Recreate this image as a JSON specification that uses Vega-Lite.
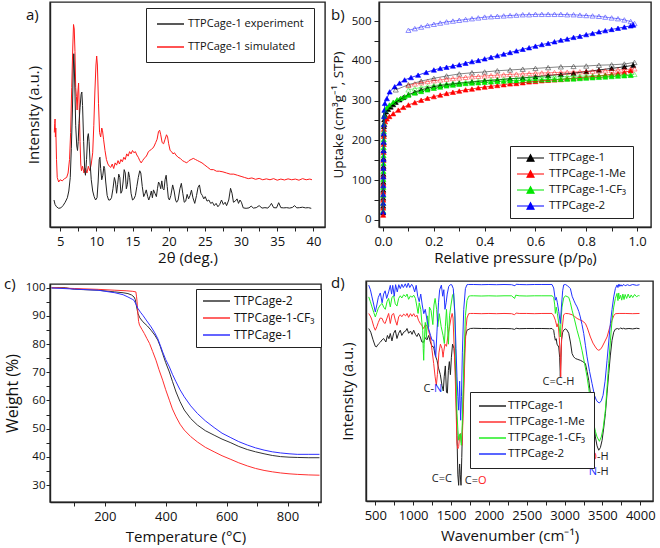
{
"$schema":"https://vega.github.io/schema/vega-lite/v6.json",
"background":"white",
"padding":{"left":3,"top":0,"right":2,"bottom":0},
"config":{
 "font":"Open Sans",
 "view":{"stroke":"#222","strokeWidth":1.4},
 "axis":{"domainColor":"#222","domainWidth":1.4,"tickColor":"#222","tickWidth":1,"tickSize":4,"labelColor":"#111","titleColor":"#111","titleFontWeight":"normal","grid":false,"labelPadding":4,"titlePadding":2,"labelFlush":false,"labelOverlap":false,"titleFontSize":15},
 "axisX":{"labelFontSize":13},
 "axisY":{"labelFontSize":11.5},
 "legend":{"labelColor":"#111","strokeColor":"#222","fillColor":"white","padding":6,"orient":"none","title":null,"symbolStrokeWidth":1.5},
 "title":{"fontSize":15,"fontWeight":"normal","anchor":"start","frame":"group","baseline":"top","color":"#111"}
},
"columns":2,
"align":"none",
"bounds":"full",
"spacing":{"row":9,"column":4},
"resolve":{"scale":{"color":"independent","fill":"independent","stroke":"independent"},"legend":{"color":"independent","fill":"independent","stroke":"independent"}},
"datasets":{
"xrd":[
{"s":"s","x":4.2,"y":42},{"s":"s","x":4.25,"y":46},{"s":"s","x":4.3,"y":48},{"s":"s","x":4.35,"y":40},{"s":"s","x":4.4,"y":44},{"s":"s","x":4.5,"y":30},{"s":"s","x":4.6,"y":22},{"s":"s","x":4.8,"y":20},{"s":"s","x":5.0,"y":21},{"s":"s","x":5.3,"y":20.5},{"s":"s","x":5.6,"y":21.5},{"s":"s","x":5.9,"y":22},{"s":"s","x":6.1,"y":24},{"s":"s","x":6.3,"y":30},{"s":"s","x":6.45,"y":42},{"s":"s","x":6.6,"y":62},{"s":"s","x":6.75,"y":80},{"s":"s","x":6.85,"y":90},{"s":"s","x":6.95,"y":88},{"s":"s","x":7.05,"y":78},{"s":"s","x":7.15,"y":62},{"s":"s","x":7.25,"y":58},{"s":"s","x":7.35,"y":52},{"s":"s","x":7.45,"y":60},{"s":"s","x":7.55,"y":64},{"s":"s","x":7.65,"y":52},{"s":"s","x":7.75,"y":38},{"s":"s","x":7.85,"y":28},{"s":"s","x":7.95,"y":25},{"s":"s","x":8.1,"y":27},{"s":"s","x":8.3,"y":24},{"s":"s","x":8.5,"y":26},{"s":"s","x":8.7,"y":24},{"s":"s","x":8.9,"y":27},{"s":"s","x":9.1,"y":25},{"s":"s","x":9.3,"y":28},{"s":"s","x":9.5,"y":33},{"s":"s","x":9.65,"y":45},{"s":"s","x":9.8,"y":60},{"s":"s","x":9.95,"y":72},{"s":"s","x":10.05,"y":76},{"s":"s","x":10.15,"y":72},{"s":"s","x":10.3,"y":55},{"s":"s","x":10.45,"y":42},{"s":"s","x":10.6,"y":40},{"s":"s","x":10.75,"y":44},{"s":"s","x":10.85,"y":43},{"s":"s","x":11.0,"y":39},{"s":"s","x":11.2,"y":34},{"s":"s","x":11.4,"y":30},{"s":"s","x":11.6,"y":28},{"s":"s","x":11.8,"y":27},{"s":"s","x":12.0,"y":26.5},{"s":"s","x":12.2,"y":28},{"s":"s","x":12.4,"y":26},{"s":"s","x":12.6,"y":28.5},{"s":"s","x":12.8,"y":27.5},{"s":"s","x":13.0,"y":29.5},{"s":"s","x":13.2,"y":28},{"s":"s","x":13.4,"y":30},{"s":"s","x":13.6,"y":29},{"s":"s","x":13.8,"y":31},{"s":"s","x":14.0,"y":30},{"s":"s","x":14.2,"y":32.5},{"s":"s","x":14.4,"y":31.5},{"s":"s","x":14.6,"y":33.5},{"s":"s","x":14.8,"y":32.5},{"s":"s","x":15.0,"y":34},{"s":"s","x":15.2,"y":33},{"s":"s","x":15.4,"y":33.5},{"s":"s","x":15.6,"y":32},{"s":"s","x":15.8,"y":31},{"s":"s","x":16.0,"y":29.5},{"s":"s","x":16.2,"y":28.5},{"s":"s","x":16.4,"y":29.5},{"s":"s","x":16.6,"y":30.5},{"s":"s","x":16.8,"y":31},{"s":"s","x":17.0,"y":32},{"s":"s","x":17.2,"y":33.5},{"s":"s","x":17.4,"y":34},{"s":"s","x":17.6,"y":34.5},{"s":"s","x":17.8,"y":35},{"s":"s","x":18.0,"y":36},{"s":"s","x":18.2,"y":37.5},{"s":"s","x":18.4,"y":39},{"s":"s","x":18.6,"y":42.5},{"s":"s","x":18.75,"y":43},{"s":"s","x":18.9,"y":41},{"s":"s","x":19.1,"y":37.5},{"s":"s","x":19.3,"y":37},{"s":"s","x":19.5,"y":39},{"s":"s","x":19.7,"y":41},{"s":"s","x":19.85,"y":40},{"s":"s","x":20.0,"y":37},{"s":"s","x":20.2,"y":34},{"s":"s","x":20.4,"y":33.5},{"s":"s","x":20.6,"y":32.5},{"s":"s","x":20.8,"y":33},{"s":"s","x":21.0,"y":32},{"s":"s","x":21.3,"y":31},{"s":"s","x":21.6,"y":30.5},{"s":"s","x":21.9,"y":29.5},{"s":"s","x":22.2,"y":29},{"s":"s","x":22.5,"y":28.5},{"s":"s","x":22.8,"y":29.5},{"s":"s","x":23.1,"y":30},{"s":"s","x":23.4,"y":30.5},{"s":"s","x":23.7,"y":30},{"s":"s","x":24.0,"y":29.5},{"s":"s","x":24.3,"y":29},{"s":"s","x":24.6,"y":28.5},{"s":"s","x":25.0,"y":27.5},{"s":"s","x":25.4,"y":26.5},{"s":"s","x":25.8,"y":25.5},{"s":"s","x":26.2,"y":25.5},{"s":"s","x":26.6,"y":24.8},{"s":"s","x":27.0,"y":24.8},{"s":"s","x":27.5,"y":24.5},{"s":"s","x":28.0,"y":24},{"s":"s","x":28.5,"y":23.5},{"s":"s","x":29.0,"y":23.5},{"s":"s","x":29.5,"y":23},{"s":"s","x":30.0,"y":22.5},{"s":"s","x":30.5,"y":22},{"s":"s","x":31.0,"y":21.5},{"s":"s","x":31.5,"y":21.8},{"s":"s","x":32.0,"y":21.2},{"s":"s","x":32.5,"y":21.6},{"s":"s","x":33.0,"y":21},{"s":"s","x":33.5,"y":21.4},{"s":"s","x":34.0,"y":21},{"s":"s","x":34.5,"y":21.5},{"s":"s","x":35.0,"y":20.8},{"s":"s","x":35.5,"y":21.3},{"s":"s","x":36.0,"y":20.9},{"s":"s","x":36.5,"y":21.4},{"s":"s","x":37.0,"y":21},{"s":"s","x":37.5,"y":21.3},{"s":"s","x":38.0,"y":20.8},{"s":"s","x":38.5,"y":21.5},{"s":"s","x":39.0,"y":21},{"s":"s","x":39.5,"y":21.3},{"s":"s","x":39.8,"y":21},
{"s":"e","x":4.15,"y":12},{"s":"e","x":4.3,"y":10},{"s":"e","x":4.5,"y":9},{"s":"e","x":4.8,"y":8.3},{"s":"e","x":5.1,"y":8.5},{"s":"e","x":5.4,"y":9.5},{"s":"e","x":5.7,"y":11},{"s":"e","x":6.0,"y":13},{"s":"e","x":6.2,"y":16},{"s":"e","x":6.4,"y":22},{"s":"e","x":6.55,"y":35},{"s":"e","x":6.7,"y":52},{"s":"e","x":6.8,"y":68},{"s":"e","x":6.88,"y":77},{"s":"e","x":6.95,"y":72},{"s":"e","x":7.05,"y":60},{"s":"e","x":7.15,"y":45},{"s":"e","x":7.3,"y":36},{"s":"e","x":7.4,"y":34},{"s":"e","x":7.5,"y":38},{"s":"e","x":7.6,"y":46},{"s":"e","x":7.75,"y":53},{"s":"e","x":7.9,"y":59},{"s":"e","x":8.0,"y":60},{"s":"e","x":8.1,"y":54},{"s":"e","x":8.25,"y":38},{"s":"e","x":8.4,"y":25},{"s":"e","x":8.5,"y":23},{"s":"e","x":8.65,"y":30},{"s":"e","x":8.8,"y":40},{"s":"e","x":8.9,"y":41.5},{"s":"e","x":9.0,"y":38},{"s":"e","x":9.15,"y":28},{"s":"e","x":9.3,"y":21},{"s":"e","x":9.5,"y":16},{"s":"e","x":9.7,"y":13.5},{"s":"e","x":9.9,"y":12},{"s":"e","x":10.1,"y":13},{"s":"e","x":10.25,"y":20},{"s":"e","x":10.4,"y":30},{"s":"e","x":10.5,"y":31},{"s":"e","x":10.6,"y":26},{"s":"e","x":10.75,"y":21},{"s":"e","x":10.9,"y":23},{"s":"e","x":11.05,"y":27},{"s":"e","x":11.15,"y":26},{"s":"e","x":11.3,"y":20},{"s":"e","x":11.5,"y":14},{"s":"e","x":11.7,"y":12},{"s":"e","x":11.9,"y":12},{"s":"e","x":12.1,"y":13},{"s":"e","x":12.3,"y":17},{"s":"e","x":12.5,"y":22},{"s":"e","x":12.65,"y":20},{"s":"e","x":12.8,"y":15},{"s":"e","x":12.95,"y":19},{"s":"e","x":13.1,"y":23.5},{"s":"e","x":13.25,"y":22},{"s":"e","x":13.4,"y":15},{"s":"e","x":13.55,"y":16},{"s":"e","x":13.7,"y":20},{"s":"e","x":13.85,"y":25.5},{"s":"e","x":14.0,"y":24},{"s":"e","x":14.15,"y":17},{"s":"e","x":14.3,"y":19},{"s":"e","x":14.45,"y":24.5},{"s":"e","x":14.6,"y":22},{"s":"e","x":14.8,"y":15},{"s":"e","x":15.0,"y":12},{"s":"e","x":15.2,"y":12.5},{"s":"e","x":15.4,"y":14},{"s":"e","x":15.6,"y":18},{"s":"e","x":15.8,"y":22},{"s":"e","x":16.0,"y":25},{"s":"e","x":16.15,"y":24},{"s":"e","x":16.35,"y":18},{"s":"e","x":16.55,"y":13.5},{"s":"e","x":16.75,"y":15},{"s":"e","x":16.9,"y":16.5},{"s":"e","x":17.1,"y":13.5},{"s":"e","x":17.25,"y":12},{"s":"e","x":17.45,"y":14},{"s":"e","x":17.6,"y":16},{"s":"e","x":17.75,"y":13},{"s":"e","x":17.9,"y":16.5},{"s":"e","x":18.1,"y":15},{"s":"e","x":18.3,"y":13.5},{"s":"e","x":18.45,"y":17},{"s":"e","x":18.6,"y":20},{"s":"e","x":18.75,"y":19},{"s":"e","x":18.9,"y":17},{"s":"e","x":19.05,"y":20.5},{"s":"e","x":19.2,"y":17},{"s":"e","x":19.35,"y":16.5},{"s":"e","x":19.5,"y":21},{"s":"e","x":19.65,"y":23},{"s":"e","x":19.8,"y":18},{"s":"e","x":19.95,"y":13},{"s":"e","x":20.1,"y":12},{"s":"e","x":20.3,"y":14},{"s":"e","x":20.55,"y":18.7},{"s":"e","x":20.75,"y":16},{"s":"e","x":20.95,"y":12},{"s":"e","x":21.1,"y":11},{"s":"e","x":21.3,"y":12},{"s":"e","x":21.55,"y":17},{"s":"e","x":21.75,"y":19.4},{"s":"e","x":21.95,"y":15},{"s":"e","x":22.15,"y":11},{"s":"e","x":22.35,"y":11.5},{"s":"e","x":22.55,"y":14.5},{"s":"e","x":22.75,"y":12.5},{"s":"e","x":22.95,"y":14},{"s":"e","x":23.15,"y":16.4},{"s":"e","x":23.35,"y":13},{"s":"e","x":23.6,"y":10.5},{"s":"e","x":23.85,"y":14},{"s":"e","x":24.05,"y":17.5},{"s":"e","x":24.25,"y":18.7},{"s":"e","x":24.45,"y":15},{"s":"e","x":24.65,"y":14},{"s":"e","x":24.85,"y":12.5},{"s":"e","x":25.05,"y":13.5},{"s":"e","x":25.3,"y":11.5},{"s":"e","x":25.55,"y":12},{"s":"e","x":25.8,"y":10.5},{"s":"e","x":26.05,"y":11},{"s":"e","x":26.3,"y":9.5},{"s":"e","x":26.55,"y":10.5},{"s":"e","x":26.8,"y":9},{"s":"e","x":27.05,"y":10},{"s":"e","x":27.3,"y":12},{"s":"e","x":27.55,"y":10},{"s":"e","x":27.8,"y":11},{"s":"e","x":28.0,"y":9.5},{"s":"e","x":28.3,"y":12},{"s":"e","x":28.55,"y":17.2},{"s":"e","x":28.75,"y":15},{"s":"e","x":28.95,"y":11},{"s":"e","x":29.2,"y":11.5},{"s":"e","x":29.45,"y":12.5},{"s":"e","x":29.65,"y":10.5},{"s":"e","x":29.85,"y":12},{"s":"e","x":30.05,"y":11},{"s":"e","x":30.3,"y":8.5},{"s":"e","x":30.7,"y":8.3},{"s":"e","x":31.1,"y":8.5},{"s":"e","x":31.4,"y":9.3},{"s":"e","x":31.7,"y":8.4},{"s":"e","x":32.1,"y":8.6},{"s":"e","x":32.5,"y":9.5},{"s":"e","x":32.9,"y":8.4},{"s":"e","x":33.3,"y":8.6},{"s":"e","x":33.7,"y":8.4},{"s":"e","x":34.0,"y":9.5},{"s":"e","x":34.2,"y":10.5},{"s":"e","x":34.5,"y":8.6},{"s":"e","x":34.9,"y":8.5},{"s":"e","x":35.2,"y":10.8},{"s":"e","x":35.5,"y":8.6},{"s":"e","x":35.9,"y":8.5},{"s":"e","x":36.3,"y":8.6},{"s":"e","x":36.7,"y":8.4},{"s":"e","x":37.1,"y":8.7},{"s":"e","x":37.4,"y":9.5},{"s":"e","x":37.7,"y":8.5},{"s":"e","x":38.1,"y":8.6},{"s":"e","x":38.5,"y":8.8},{"s":"e","x":38.9,"y":8.5},{"s":"e","x":39.3,"y":8.6},{"s":"e","x":39.7,"y":8.3}
],
"iso":[
{"s":"1","b":"a","p":0.0005,"u":18},{"s":"1","b":"a","p":0.0007,"u":35},{"s":"1","b":"a","p":0.0009,"u":55},{"s":"1","b":"a","p":0.0011,"u":75},{"s":"1","b":"a","p":0.0013,"u":95},{"s":"1","b":"a","p":0.0015,"u":115},{"s":"1","b":"a","p":0.0018,"u":135},{"s":"1","b":"a","p":0.002,"u":155},{"s":"1","b":"a","p":0.0023,"u":175},{"s":"1","b":"a","p":0.0026,"u":195},{"s":"1","b":"a","p":0.003,"u":215},{"s":"1","b":"a","p":0.0035,"u":235},{"s":"1","b":"a","p":0.0045,"u":252},{"s":"1","b":"a","p":0.007,"u":265},{"s":"1","b":"a","p":0.012,"u":272},{"s":"1","b":"a","p":0.02,"u":278},{"s":"1","b":"a","p":0.03,"u":284},{"s":"1","b":"a","p":0.04,"u":290},{"s":"1","b":"a","p":0.05,"u":296},{"s":"1","b":"a","p":0.065,"u":302},{"s":"1","b":"a","p":0.08,"u":308},{"s":"1","b":"a","p":0.1,"u":315},{"s":"1","b":"a","p":0.125,"u":321},{"s":"1","b":"a","p":0.15,"u":327},{"s":"1","b":"a","p":0.175,"u":331},{"s":"1","b":"a","p":0.2,"u":335},{"s":"1","b":"a","p":0.225,"u":338},{"s":"1","b":"a","p":0.25,"u":340},{"s":"1","b":"a","p":0.275,"u":342},{"s":"1","b":"a","p":0.3,"u":344},{"s":"1","b":"a","p":0.35,"u":347},{"s":"1","b":"a","p":0.4,"u":350},{"s":"1","b":"a","p":0.45,"u":352},{"s":"1","b":"a","p":0.5,"u":355},{"s":"1","b":"a","p":0.55,"u":357},{"s":"1","b":"a","p":0.6,"u":360},{"s":"1","b":"a","p":0.65,"u":363},{"s":"1","b":"a","p":0.7,"u":366},{"s":"1","b":"a","p":0.75,"u":369},{"s":"1","b":"a","p":0.8,"u":373},{"s":"1","b":"a","p":0.85,"u":377},{"s":"1","b":"a","p":0.9,"u":381},{"s":"1","b":"a","p":0.95,"u":385},{"s":"1","b":"a","p":0.985,"u":389},
{"s":"1","b":"d","p":0.99,"u":396},{"s":"1","b":"d","p":0.95,"u":392},{"s":"1","b":"d","p":0.9,"u":390},{"s":"1","b":"d","p":0.85,"u":389},{"s":"1","b":"d","p":0.8,"u":387},{"s":"1","b":"d","p":0.75,"u":386},{"s":"1","b":"d","p":0.7,"u":385},{"s":"1","b":"d","p":0.65,"u":383},{"s":"1","b":"d","p":0.6,"u":381},{"s":"1","b":"d","p":0.55,"u":379},{"s":"1","b":"d","p":0.5,"u":377},{"s":"1","b":"d","p":0.45,"u":375},{"s":"1","b":"d","p":0.4,"u":372},{"s":"1","b":"d","p":0.35,"u":370},{"s":"1","b":"d","p":0.3,"u":367},{"s":"1","b":"d","p":0.25,"u":362},{"s":"1","b":"d","p":0.2,"u":356},{"s":"1","b":"d","p":0.15,"u":349},{"s":"1","b":"d","p":0.1,"u":340},{"s":"1","b":"d","p":0.05,"u":327},
{"s":"Me","b":"a","p":0.0005,"u":12},{"s":"Me","b":"a","p":0.0007,"u":30},{"s":"Me","b":"a","p":0.0009,"u":50},{"s":"Me","b":"a","p":0.0011,"u":70},{"s":"Me","b":"a","p":0.0013,"u":90},{"s":"Me","b":"a","p":0.0015,"u":110},{"s":"Me","b":"a","p":0.0018,"u":130},{"s":"Me","b":"a","p":0.002,"u":150},{"s":"Me","b":"a","p":0.0023,"u":170},{"s":"Me","b":"a","p":0.0026,"u":190},{"s":"Me","b":"a","p":0.003,"u":210},{"s":"Me","b":"a","p":0.0035,"u":228},{"s":"Me","b":"a","p":0.005,"u":240},{"s":"Me","b":"a","p":0.008,"u":247},{"s":"Me","b":"a","p":0.015,"u":254},{"s":"Me","b":"a","p":0.025,"u":260},{"s":"Me","b":"a","p":0.04,"u":267},{"s":"Me","b":"a","p":0.06,"u":276},{"s":"Me","b":"a","p":0.08,"u":283},{"s":"Me","b":"a","p":0.1,"u":289},{"s":"Me","b":"a","p":0.125,"u":295},{"s":"Me","b":"a","p":0.15,"u":301},{"s":"Me","b":"a","p":0.175,"u":306},{"s":"Me","b":"a","p":0.2,"u":310},{"s":"Me","b":"a","p":0.225,"u":314},{"s":"Me","b":"a","p":0.25,"u":318},{"s":"Me","b":"a","p":0.275,"u":321},{"s":"Me","b":"a","p":0.3,"u":324},{"s":"Me","b":"a","p":0.325,"u":327},{"s":"Me","b":"a","p":0.35,"u":329},{"s":"Me","b":"a","p":0.375,"u":332},{"s":"Me","b":"a","p":0.4,"u":334},{"s":"Me","b":"a","p":0.425,"u":336},{"s":"Me","b":"a","p":0.45,"u":338},{"s":"Me","b":"a","p":0.475,"u":340},{"s":"Me","b":"a","p":0.5,"u":342},{"s":"Me","b":"a","p":0.525,"u":343},{"s":"Me","b":"a","p":0.55,"u":345},{"s":"Me","b":"a","p":0.575,"u":347},{"s":"Me","b":"a","p":0.6,"u":348},{"s":"Me","b":"a","p":0.625,"u":350},{"s":"Me","b":"a","p":0.65,"u":351},{"s":"Me","b":"a","p":0.675,"u":352},{"s":"Me","b":"a","p":0.7,"u":353},{"s":"Me","b":"a","p":0.725,"u":355},{"s":"Me","b":"a","p":0.75,"u":356},{"s":"Me","b":"a","p":0.775,"u":358},{"s":"Me","b":"a","p":0.8,"u":359},{"s":"Me","b":"a","p":0.825,"u":361},{"s":"Me","b":"a","p":0.85,"u":362},{"s":"Me","b":"a","p":0.875,"u":364},{"s":"Me","b":"a","p":0.9,"u":366},{"s":"Me","b":"a","p":0.925,"u":368},{"s":"Me","b":"a","p":0.95,"u":371},{"s":"Me","b":"a","p":0.975,"u":375},
{"s":"Me","b":"d","p":0.99,"u":380},{"s":"Me","b":"d","p":0.975,"u":379},{"s":"Me","b":"d","p":0.95,"u":378},{"s":"Me","b":"d","p":0.925,"u":377},{"s":"Me","b":"d","p":0.9,"u":376},{"s":"Me","b":"d","p":0.875,"u":375},{"s":"Me","b":"d","p":0.85,"u":374.5},{"s":"Me","b":"d","p":0.825,"u":374},{"s":"Me","b":"d","p":0.8,"u":373},{"s":"Me","b":"d","p":0.775,"u":372.5},{"s":"Me","b":"d","p":0.75,"u":372},{"s":"Me","b":"d","p":0.725,"u":371.5},{"s":"Me","b":"d","p":0.7,"u":371},{"s":"Me","b":"d","p":0.675,"u":370.5},{"s":"Me","b":"d","p":0.65,"u":370},{"s":"Me","b":"d","p":0.625,"u":369.5},{"s":"Me","b":"d","p":0.6,"u":369},{"s":"Me","b":"d","p":0.575,"u":368},{"s":"Me","b":"d","p":0.55,"u":367},{"s":"Me","b":"d","p":0.525,"u":366.5},{"s":"Me","b":"d","p":0.5,"u":366},{"s":"Me","b":"d","p":0.475,"u":365},{"s":"Me","b":"d","p":0.45,"u":364},{"s":"Me","b":"d","p":0.425,"u":363},{"s":"Me","b":"d","p":0.4,"u":362},{"s":"Me","b":"d","p":0.375,"u":361},{"s":"Me","b":"d","p":0.35,"u":360},{"s":"Me","b":"d","p":0.325,"u":358.5},{"s":"Me","b":"d","p":0.3,"u":357},{"s":"Me","b":"d","p":0.275,"u":355.5},{"s":"Me","b":"d","p":0.25,"u":354},{"s":"Me","b":"d","p":0.225,"u":352},{"s":"Me","b":"d","p":0.2,"u":350},{"s":"Me","b":"d","p":0.175,"u":348},{"s":"Me","b":"d","p":0.15,"u":345},{"s":"Me","b":"d","p":0.125,"u":342},{"s":"Me","b":"d","p":0.1,"u":338},
{"s":"CF3","b":"a","p":0.0005,"u":22},{"s":"CF3","b":"a","p":0.0007,"u":42},{"s":"CF3","b":"a","p":0.0009,"u":62},{"s":"CF3","b":"a","p":0.0011,"u":82},{"s":"CF3","b":"a","p":0.0013,"u":102},{"s":"CF3","b":"a","p":0.0015,"u":122},{"s":"CF3","b":"a","p":0.0018,"u":142},{"s":"CF3","b":"a","p":0.002,"u":162},{"s":"CF3","b":"a","p":0.0023,"u":182},{"s":"CF3","b":"a","p":0.0026,"u":202},{"s":"CF3","b":"a","p":0.003,"u":222},{"s":"CF3","b":"a","p":0.0035,"u":242},{"s":"CF3","b":"a","p":0.005,"u":262},{"s":"CF3","b":"a","p":0.008,"u":276},{"s":"CF3","b":"a","p":0.015,"u":283},{"s":"CF3","b":"a","p":0.025,"u":289},{"s":"CF3","b":"a","p":0.04,"u":296},{"s":"CF3","b":"a","p":0.055,"u":302},{"s":"CF3","b":"a","p":0.07,"u":306},{"s":"CF3","b":"a","p":0.085,"u":310},{"s":"CF3","b":"a","p":0.1,"u":314},{"s":"CF3","b":"a","p":0.125,"u":319},{"s":"CF3","b":"a","p":0.15,"u":323},{"s":"CF3","b":"a","p":0.175,"u":327},{"s":"CF3","b":"a","p":0.2,"u":331},{"s":"CF3","b":"a","p":0.225,"u":334},{"s":"CF3","b":"a","p":0.25,"u":337},{"s":"CF3","b":"a","p":0.275,"u":339},{"s":"CF3","b":"a","p":0.3,"u":341},{"s":"CF3","b":"a","p":0.325,"u":343},{"s":"CF3","b":"a","p":0.35,"u":344},{"s":"CF3","b":"a","p":0.375,"u":345},{"s":"CF3","b":"a","p":0.4,"u":346},{"s":"CF3","b":"a","p":0.425,"u":347},{"s":"CF3","b":"a","p":0.45,"u":348},{"s":"CF3","b":"a","p":0.475,"u":349},{"s":"CF3","b":"a","p":0.5,"u":349.5},{"s":"CF3","b":"a","p":0.525,"u":350},{"s":"CF3","b":"a","p":0.55,"u":350.5},{"s":"CF3","b":"a","p":0.575,"u":351},{"s":"CF3","b":"a","p":0.6,"u":351.5},{"s":"CF3","b":"a","p":0.625,"u":352},{"s":"CF3","b":"a","p":0.65,"u":352.5},{"s":"CF3","b":"a","p":0.675,"u":353},{"s":"CF3","b":"a","p":0.7,"u":353.5},{"s":"CF3","b":"a","p":0.725,"u":354},{"s":"CF3","b":"a","p":0.75,"u":354.5},{"s":"CF3","b":"a","p":0.775,"u":355.5},{"s":"CF3","b":"a","p":0.8,"u":356.5},{"s":"CF3","b":"a","p":0.825,"u":357.5},{"s":"CF3","b":"a","p":0.85,"u":358.5},{"s":"CF3","b":"a","p":0.875,"u":359.5},{"s":"CF3","b":"a","p":0.9,"u":360.5},{"s":"CF3","b":"a","p":0.925,"u":361.5},{"s":"CF3","b":"a","p":0.95,"u":362.5},{"s":"CF3","b":"a","p":0.975,"u":363.5},
{"s":"CF3","b":"d","p":0.99,"u":366},{"s":"CF3","b":"d","p":0.975,"u":365.5},{"s":"CF3","b":"d","p":0.95,"u":365},{"s":"CF3","b":"d","p":0.925,"u":364.5},{"s":"CF3","b":"d","p":0.9,"u":364},{"s":"CF3","b":"d","p":0.875,"u":363.5},{"s":"CF3","b":"d","p":0.85,"u":363},{"s":"CF3","b":"d","p":0.825,"u":362.5},{"s":"CF3","b":"d","p":0.8,"u":362},{"s":"CF3","b":"d","p":0.775,"u":361.5},{"s":"CF3","b":"d","p":0.75,"u":361},{"s":"CF3","b":"d","p":0.725,"u":360.5},{"s":"CF3","b":"d","p":0.7,"u":360},{"s":"CF3","b":"d","p":0.675,"u":359.5},{"s":"CF3","b":"d","p":0.65,"u":359},{"s":"CF3","b":"d","p":0.625,"u":358.5},{"s":"CF3","b":"d","p":0.6,"u":358},{"s":"CF3","b":"d","p":0.575,"u":357.5},{"s":"CF3","b":"d","p":0.55,"u":357},{"s":"CF3","b":"d","p":0.525,"u":356},{"s":"CF3","b":"d","p":0.5,"u":355},{"s":"CF3","b":"d","p":0.475,"u":354},{"s":"CF3","b":"d","p":0.45,"u":353},{"s":"CF3","b":"d","p":0.425,"u":352},{"s":"CF3","b":"d","p":0.4,"u":351},{"s":"CF3","b":"d","p":0.375,"u":349.5},{"s":"CF3","b":"d","p":0.35,"u":348},{"s":"CF3","b":"d","p":0.325,"u":346.5},{"s":"CF3","b":"d","p":0.3,"u":345},{"s":"CF3","b":"d","p":0.275,"u":343.5},{"s":"CF3","b":"d","p":0.25,"u":342},{"s":"CF3","b":"d","p":0.225,"u":340},{"s":"CF3","b":"d","p":0.2,"u":338},{"s":"CF3","b":"d","p":0.175,"u":335.5},{"s":"CF3","b":"d","p":0.15,"u":333},{"s":"CF3","b":"d","p":0.125,"u":330},{"s":"CF3","b":"d","p":0.1,"u":327},
{"s":"2","b":"a","p":0.0005,"u":20},{"s":"2","b":"a","p":0.0007,"u":42},{"s":"2","b":"a","p":0.0009,"u":64},{"s":"2","b":"a","p":0.0011,"u":86},{"s":"2","b":"a","p":0.0013,"u":108},{"s":"2","b":"a","p":0.0015,"u":130},{"s":"2","b":"a","p":0.0018,"u":152},{"s":"2","b":"a","p":0.002,"u":174},{"s":"2","b":"a","p":0.0023,"u":196},{"s":"2","b":"a","p":0.0026,"u":218},{"s":"2","b":"a","p":0.003,"u":240},{"s":"2","b":"a","p":0.004,"u":260},{"s":"2","b":"a","p":0.005,"u":276},{"s":"2","b":"a","p":0.007,"u":293},{"s":"2","b":"a","p":0.015,"u":305},{"s":"2","b":"a","p":0.026,"u":322},{"s":"2","b":"a","p":0.046,"u":335},{"s":"2","b":"a","p":0.065,"u":344},{"s":"2","b":"a","p":0.085,"u":352},{"s":"2","b":"a","p":0.11,"u":358},{"s":"2","b":"a","p":0.138,"u":364},{"s":"2","b":"a","p":0.17,"u":371},{"s":"2","b":"a","p":0.2,"u":377},{"s":"2","b":"a","p":0.225,"u":381},{"s":"2","b":"a","p":0.25,"u":384},{"s":"2","b":"a","p":0.275,"u":387},{"s":"2","b":"a","p":0.3,"u":390},{"s":"2","b":"a","p":0.325,"u":394},{"s":"2","b":"a","p":0.35,"u":398},{"s":"2","b":"a","p":0.375,"u":401},{"s":"2","b":"a","p":0.4,"u":405},{"s":"2","b":"a","p":0.425,"u":409},{"s":"2","b":"a","p":0.45,"u":413},{"s":"2","b":"a","p":0.475,"u":417},{"s":"2","b":"a","p":0.5,"u":421},{"s":"2","b":"a","p":0.525,"u":425},{"s":"2","b":"a","p":0.55,"u":429},{"s":"2","b":"a","p":0.575,"u":433},{"s":"2","b":"a","p":0.6,"u":437},{"s":"2","b":"a","p":0.625,"u":441},{"s":"2","b":"a","p":0.65,"u":444},{"s":"2","b":"a","p":0.675,"u":448},{"s":"2","b":"a","p":0.7,"u":452},{"s":"2","b":"a","p":0.725,"u":455},{"s":"2","b":"a","p":0.75,"u":459},{"s":"2","b":"a","p":0.775,"u":462},{"s":"2","b":"a","p":0.8,"u":466},{"s":"2","b":"a","p":0.825,"u":469},{"s":"2","b":"a","p":0.85,"u":473},{"s":"2","b":"a","p":0.875,"u":476},{"s":"2","b":"a","p":0.9,"u":479},{"s":"2","b":"a","p":0.925,"u":482},{"s":"2","b":"a","p":0.95,"u":485},{"s":"2","b":"a","p":0.975,"u":488},{"s":"2","b":"a","p":0.985,"u":490},
{"s":"2","b":"d","p":0.99,"u":494},{"s":"2","b":"d","p":0.975,"u":499},{"s":"2","b":"d","p":0.95,"u":503},{"s":"2","b":"d","p":0.925,"u":506},{"s":"2","b":"d","p":0.9,"u":508},{"s":"2","b":"d","p":0.875,"u":510},{"s":"2","b":"d","p":0.85,"u":512},{"s":"2","b":"d","p":0.825,"u":513},{"s":"2","b":"d","p":0.8,"u":514},{"s":"2","b":"d","p":0.775,"u":515},{"s":"2","b":"d","p":0.75,"u":516},{"s":"2","b":"d","p":0.725,"u":516},{"s":"2","b":"d","p":0.7,"u":517},{"s":"2","b":"d","p":0.675,"u":517},{"s":"2","b":"d","p":0.65,"u":517},{"s":"2","b":"d","p":0.625,"u":517},{"s":"2","b":"d","p":0.6,"u":517},{"s":"2","b":"d","p":0.575,"u":516},{"s":"2","b":"d","p":0.55,"u":516},{"s":"2","b":"d","p":0.525,"u":515},{"s":"2","b":"d","p":0.5,"u":514},{"s":"2","b":"d","p":0.475,"u":513},{"s":"2","b":"d","p":0.45,"u":512},{"s":"2","b":"d","p":0.425,"u":511},{"s":"2","b":"d","p":0.4,"u":510},{"s":"2","b":"d","p":0.375,"u":508},{"s":"2","b":"d","p":0.35,"u":506},{"s":"2","b":"d","p":0.325,"u":504},{"s":"2","b":"d","p":0.3,"u":502},{"s":"2","b":"d","p":0.275,"u":500},{"s":"2","b":"d","p":0.25,"u":498},{"s":"2","b":"d","p":0.225,"u":495},{"s":"2","b":"d","p":0.2,"u":492},{"s":"2","b":"d","p":0.175,"u":489},{"s":"2","b":"d","p":0.15,"u":485},{"s":"2","b":"d","p":0.125,"u":481},{"s":"2","b":"d","p":0.1,"u":477}
],
"tga":[
{"s":"2","x":25,"y":99.9},{"s":"2","x":50,"y":100},{"s":"2","x":70,"y":100},{"s":"2","x":95,"y":99.5},{"s":"2","x":130,"y":99.3},{"s":"2","x":178,"y":99.1},{"s":"2","x":233,"y":98.5},{"s":"2","x":260,"y":98.2},{"s":"2","x":276,"y":97.9},{"s":"2","x":288,"y":97.4},{"s":"2","x":296,"y":96.7},{"s":"2","x":300,"y":95.8},{"s":"2","x":303,"y":94},{"s":"2","x":306,"y":92.3},{"s":"2","x":309,"y":90.8},{"s":"2","x":315,"y":89.3},{"s":"2","x":325,"y":87.9},{"s":"2","x":340,"y":86.4},{"s":"2","x":352,"y":84.9},{"s":"2","x":364,"y":83.2},{"s":"2","x":374,"y":81.4},{"s":"2","x":382,"y":79.2},{"s":"2","x":390,"y":76.6},{"s":"2","x":400,"y":73.4},{"s":"2","x":412,"y":70.1},{"s":"2","x":422,"y":66.8},{"s":"2","x":434,"y":63},{"s":"2","x":447,"y":59.6},{"s":"2","x":461,"y":56.6},{"s":"2","x":482,"y":53.6},{"s":"2","x":504,"y":51.3},{"s":"2","x":530,"y":49.3},{"s":"2","x":559,"y":47.7},{"s":"2","x":585,"y":46.3},{"s":"2","x":614,"y":45},{"s":"2","x":640,"y":43.7},{"s":"2","x":668,"y":42.6},{"s":"2","x":695,"y":41.8},{"s":"2","x":723,"y":41.1},{"s":"2","x":750,"y":40.5},{"s":"2","x":777,"y":40.1},{"s":"2","x":805,"y":39.9},{"s":"2","x":832,"y":39.8},{"s":"2","x":870,"y":39.7},{"s":"2","x":905,"y":39.7},
{"s":"CF3","x":25,"y":100},{"s":"CF3","x":100,"y":99.7},{"s":"CF3","x":178,"y":99.4},{"s":"CF3","x":233,"y":99.1},{"s":"CF3","x":270,"y":98.9},{"s":"CF3","x":292,"y":98.7},{"s":"CF3","x":302,"y":98.5},{"s":"CF3","x":304,"y":97},{"s":"CF3","x":306,"y":95},{"s":"CF3","x":307.5,"y":92.5},{"s":"CF3","x":309,"y":90.2},{"s":"CF3","x":311,"y":88},{"s":"CF3","x":314,"y":86.7},{"s":"CF3","x":322,"y":85.2},{"s":"CF3","x":330,"y":83.7},{"s":"CF3","x":338,"y":82},{"s":"CF3","x":347,"y":80.2},{"s":"CF3","x":357,"y":77.4},{"s":"CF3","x":368,"y":74.3},{"s":"CF3","x":378,"y":70.9},{"s":"CF3","x":390,"y":67.2},{"s":"CF3","x":400,"y":63.8},{"s":"CF3","x":412,"y":60.1},{"s":"CF3","x":422,"y":57},{"s":"CF3","x":434,"y":54.2},{"s":"CF3","x":447,"y":51.6},{"s":"CF3","x":461,"y":49.5},{"s":"CF3","x":482,"y":47.2},{"s":"CF3","x":504,"y":45.3},{"s":"CF3","x":530,"y":43.4},{"s":"CF3","x":559,"y":41.8},{"s":"CF3","x":585,"y":40.4},{"s":"CF3","x":614,"y":39.1},{"s":"CF3","x":640,"y":37.9},{"s":"CF3","x":668,"y":36.8},{"s":"CF3","x":695,"y":35.9},{"s":"CF3","x":723,"y":35.2},{"s":"CF3","x":750,"y":34.7},{"s":"CF3","x":777,"y":34.3},{"s":"CF3","x":805,"y":34},{"s":"CF3","x":832,"y":33.8},{"s":"CF3","x":870,"y":33.6},{"s":"CF3","x":905,"y":33.5},
{"s":"1","x":25,"y":99.9},{"s":"1","x":100,"y":99.5},{"s":"1","x":178,"y":99.1},{"s":"1","x":233,"y":98.2},{"s":"1","x":260,"y":97.5},{"s":"1","x":276,"y":96.7},{"s":"1","x":290,"y":95.9},{"s":"1","x":296,"y":95.5},{"s":"1","x":302,"y":94.2},{"s":"1","x":309,"y":92.6},{"s":"1","x":317,"y":91.3},{"s":"1","x":325,"y":90.2},{"s":"1","x":338,"y":88.2},{"s":"1","x":352,"y":86.1},{"s":"1","x":364,"y":84},{"s":"1","x":374,"y":81.9},{"s":"1","x":382,"y":79.6},{"s":"1","x":390,"y":77.2},{"s":"1","x":400,"y":74.5},{"s":"1","x":412,"y":71.9},{"s":"1","x":422,"y":69.3},{"s":"1","x":434,"y":66.6},{"s":"1","x":447,"y":63.8},{"s":"1","x":461,"y":61.3},{"s":"1","x":482,"y":58.1},{"s":"1","x":504,"y":55.4},{"s":"1","x":530,"y":52.8},{"s":"1","x":559,"y":50.4},{"s":"1","x":585,"y":48.4},{"s":"1","x":614,"y":46.8},{"s":"1","x":640,"y":45.4},{"s":"1","x":668,"y":44.2},{"s":"1","x":695,"y":43.2},{"s":"1","x":723,"y":42.4},{"s":"1","x":750,"y":41.8},{"s":"1","x":777,"y":41.4},{"s":"1","x":805,"y":41.1},{"s":"1","x":832,"y":40.9},{"s":"1","x":870,"y":40.9},{"s":"1","x":905,"y":40.9}
],
"ftir":[
{"s":"1","x":413,"y":79.2},{"s":"1","x":440,"y":77.5},{"s":"1","x":470,"y":74},{"s":"1","x":500,"y":71},{"s":"1","x":513,"y":70.7},{"s":"1","x":540,"y":72},{"s":"1","x":566,"y":72.9},{"s":"1","x":590,"y":74},{"s":"1","x":610,"y":74.6},{"s":"1","x":640,"y":73},{"s":"1","x":660,"y":76},{"s":"1","x":680,"y":74.5},{"s":"1","x":698,"y":76.9},{"s":"1","x":720,"y":73.5},{"s":"1","x":742,"y":77},{"s":"1","x":764,"y":78.4},{"s":"1","x":786,"y":74.6},{"s":"1","x":808,"y":77},{"s":"1","x":830,"y":78.4},{"s":"1","x":850,"y":76},{"s":"1","x":875,"y":77.5},{"s":"1","x":900,"y":78},{"s":"1","x":919,"y":79.2},{"s":"1","x":940,"y":77},{"s":"1","x":965,"y":78},{"s":"1","x":985,"y":76.5},{"s":"1","x":1007,"y":78.4},{"s":"1","x":1030,"y":76.5},{"s":"1","x":1050,"y":75.5},{"s":"1","x":1070,"y":77},{"s":"1","x":1094,"y":75.3},{"s":"1","x":1115,"y":73},{"s":"1","x":1139,"y":72.9},{"s":"1","x":1160,"y":75},{"s":"1","x":1183,"y":74},{"s":"1","x":1205,"y":76},{"s":"1","x":1227,"y":73},{"s":"1","x":1250,"y":71},{"s":"1","x":1271,"y":70.7},{"s":"1","x":1290,"y":67},{"s":"1","x":1315,"y":64.6},{"s":"1","x":1335,"y":61},{"s":"1","x":1359,"y":58},{"s":"1","x":1381,"y":53},{"s":"1","x":1398,"y":50.5},{"s":"1","x":1410,"y":57},{"s":"1","x":1425,"y":62},{"s":"1","x":1440,"y":50},{"s":"1","x":1452,"y":49.5},{"s":"1","x":1465,"y":60},{"s":"1","x":1478,"y":64},{"s":"1","x":1492,"y":58},{"s":"1","x":1505,"y":66},{"s":"1","x":1520,"y":72},{"s":"1","x":1540,"y":70},{"s":"1","x":1557,"y":62},{"s":"1","x":1570,"y":45},{"s":"1","x":1579,"y":30},{"s":"1","x":1590,"y":12},{"s":"1","x":1601,"y":7.2},{"s":"1","x":1610,"y":15},{"s":"1","x":1614,"y":17},{"s":"1","x":1622,"y":12},{"s":"1","x":1632,"y":7.2},{"s":"1","x":1642,"y":20},{"s":"1","x":1654,"y":38},{"s":"1","x":1668,"y":55.4},{"s":"1","x":1680,"y":70},{"s":"1","x":1690,"y":75.5},{"s":"1","x":1711,"y":78.4},{"s":"1","x":1755,"y":79.2},{"s":"1","x":1800,"y":79.3},{"s":"1","x":1900,"y":79.2},{"s":"1","x":2000,"y":79.2},{"s":"1","x":2100,"y":79.1},{"s":"1","x":2200,"y":79.2},{"s":"1","x":2300,"y":79.1},{"s":"1","x":2340,"y":78.8},{"s":"1","x":2360,"y":79.3},{"s":"1","x":2400,"y":79.1},{"s":"1","x":2500,"y":79.2},{"s":"1","x":2600,"y":79.2},{"s":"1","x":2700,"y":79.2},{"s":"1","x":2800,"y":79.1},{"s":"1","x":2834,"y":79.2},{"s":"1","x":2856,"y":78.4},{"s":"1","x":2866,"y":76},{"s":"1","x":2878,"y":73.8},{"s":"1","x":2890,"y":74.5},{"s":"1","x":2900,"y":72},{"s":"1","x":2923,"y":70.7},{"s":"1","x":2935,"y":66},{"s":"1","x":2944,"y":57},{"s":"1","x":2952,"y":66},{"s":"1","x":2960,"y":74},{"s":"1","x":2975,"y":77.5},{"s":"1","x":2988,"y":78.4},{"s":"1","x":3010,"y":79},{"s":"1","x":3030,"y":78.6},{"s":"1","x":3055,"y":77},{"s":"1","x":3077,"y":73},{"s":"1","x":3099,"y":67.7},{"s":"1","x":3120,"y":66.2},{"s":"1","x":3143,"y":65.4},{"s":"1","x":3175,"y":65},{"s":"1","x":3208,"y":64.6},{"s":"1","x":3240,"y":64},{"s":"1","x":3275,"y":63.1},{"s":"1","x":3297,"y":59.5},{"s":"1","x":3319,"y":55.4},{"s":"1","x":3341,"y":49.5},{"s":"1","x":3363,"y":43.2},{"s":"1","x":3385,"y":36},{"s":"1","x":3407,"y":29.4},{"s":"1","x":3429,"y":25.3},{"s":"1","x":3451,"y":23.3},{"s":"1","x":3473,"y":24.5},{"s":"1","x":3495,"y":27.8},{"s":"1","x":3517,"y":33.5},{"s":"1","x":3539,"y":40.1},{"s":"1","x":3561,"y":49.5},{"s":"1","x":3583,"y":58.5},{"s":"1","x":3605,"y":67},{"s":"1","x":3627,"y":73.8},{"s":"1","x":3649,"y":77.5},{"s":"1","x":3671,"y":78.9},{"s":"1","x":3700,"y":79.2},{"s":"1","x":3720,"y":78.8},{"s":"1","x":3740,"y":79.5},{"s":"1","x":3760,"y":79},{"s":"1","x":3780,"y":79.3},{"s":"1","x":3800,"y":79},{"s":"1","x":3850,"y":79.2},{"s":"1","x":3900,"y":79},{"s":"1","x":3950,"y":79.3},{"s":"1","x":3990,"y":79.1},
{"s":"Me","x":413,"y":86.1},{"s":"Me","x":440,"y":84.5},{"s":"Me","x":456,"y":83},{"s":"Me","x":480,"y":80},{"s":"Me","x":500,"y":78.4},{"s":"Me","x":520,"y":80},{"s":"Me","x":540,"y":82},{"s":"Me","x":565,"y":84},{"s":"Me","x":590,"y":83.8},{"s":"Me","x":610,"y":82},{"s":"Me","x":630,"y":81.5},{"s":"Me","x":655,"y":84},{"s":"Me","x":676,"y":86.1},{"s":"Me","x":698,"y":81.5},{"s":"Me","x":720,"y":85.5},{"s":"Me","x":742,"y":86.1},{"s":"Me","x":764,"y":83},{"s":"Me","x":786,"y":80.7},{"s":"Me","x":808,"y":84.5},{"s":"Me","x":830,"y":85.5},{"s":"Me","x":850,"y":84.6},{"s":"Me","x":875,"y":85.8},{"s":"Me","x":900,"y":85},{"s":"Me","x":919,"y":86.1},{"s":"Me","x":940,"y":84.3},{"s":"Me","x":965,"y":86},{"s":"Me","x":985,"y":84.8},{"s":"Me","x":1007,"y":86},{"s":"Me","x":1030,"y":84.5},{"s":"Me","x":1050,"y":85.3},{"s":"Me","x":1070,"y":83},{"s":"Me","x":1094,"y":81.5},{"s":"Me","x":1115,"y":80.5},{"s":"Me","x":1139,"y":79.2},{"s":"Me","x":1160,"y":81},{"s":"Me","x":1183,"y":80.5},{"s":"Me","x":1205,"y":78},{"s":"Me","x":1227,"y":75.3},{"s":"Me","x":1250,"y":69},{"s":"Me","x":1271,"y":63.1},{"s":"Me","x":1290,"y":57},{"s":"Me","x":1306,"y":53.1},{"s":"Me","x":1320,"y":58},{"s":"Me","x":1340,"y":68},{"s":"Me","x":1360,"y":72},{"s":"Me","x":1381,"y":70},{"s":"Me","x":1395,"y":66},{"s":"Me","x":1403,"y":68.5},{"s":"Me","x":1420,"y":72},{"s":"Me","x":1440,"y":71},{"s":"Me","x":1460,"y":76},{"s":"Me","x":1480,"y":80},{"s":"Me","x":1500,"y":84},{"s":"Me","x":1515,"y":86.1},{"s":"Me","x":1527,"y":84},{"s":"Me","x":1540,"y":72},{"s":"Me","x":1557,"y":55.4},{"s":"Me","x":1570,"y":38},{"s":"Me","x":1579,"y":26.4},{"s":"Me","x":1590,"y":24},{"s":"Me","x":1601,"y":25},{"s":"Me","x":1612,"y":29},{"s":"Me","x":1623,"y":31},{"s":"Me","x":1635,"y":27},{"s":"Me","x":1645,"y":25.6},{"s":"Me","x":1655,"y":35},{"s":"Me","x":1668,"y":48},{"s":"Me","x":1680,"y":63},{"s":"Me","x":1690,"y":73},{"s":"Me","x":1700,"y":80},{"s":"Me","x":1711,"y":84},{"s":"Me","x":1733,"y":86},{"s":"Me","x":1760,"y":86.1},{"s":"Me","x":1800,"y":86.1},{"s":"Me","x":1900,"y":86},{"s":"Me","x":2000,"y":86.1},{"s":"Me","x":2100,"y":86},{"s":"Me","x":2200,"y":86.1},{"s":"Me","x":2300,"y":86},{"s":"Me","x":2340,"y":85.5},{"s":"Me","x":2360,"y":86.3},{"s":"Me","x":2400,"y":86.1},{"s":"Me","x":2500,"y":86.1},{"s":"Me","x":2600,"y":86},{"s":"Me","x":2700,"y":86.1},{"s":"Me","x":2834,"y":86.1},{"s":"Me","x":2856,"y":85},{"s":"Me","x":2878,"y":83},{"s":"Me","x":2900,"y":79.9},{"s":"Me","x":2915,"y":81.5},{"s":"Me","x":2930,"y":75},{"s":"Me","x":2944,"y":66},{"s":"Me","x":2949,"y":57},{"s":"Me","x":2955,"y":68},{"s":"Me","x":2965,"y":78},{"s":"Me","x":2988,"y":85.5},{"s":"Me","x":3011,"y":86.1},{"s":"Me","x":3055,"y":86},{"s":"Me","x":3099,"y":85.5},{"s":"Me","x":3130,"y":84.8},{"s":"Me","x":3165,"y":83.8},{"s":"Me","x":3200,"y":83.2},{"s":"Me","x":3230,"y":82.8},{"s":"Me","x":3275,"y":81.5},{"s":"Me","x":3300,"y":79.5},{"s":"Me","x":3341,"y":75.3},{"s":"Me","x":3375,"y":72.5},{"s":"Me","x":3407,"y":70.7},{"s":"Me","x":3430,"y":69.6},{"s":"Me","x":3451,"y":69.2},{"s":"Me","x":3473,"y":69.6},{"s":"Me","x":3495,"y":70.7},{"s":"Me","x":3528,"y":73},{"s":"Me","x":3561,"y":75.3},{"s":"Me","x":3595,"y":79.5},{"s":"Me","x":3627,"y":83},{"s":"Me","x":3649,"y":85},{"s":"Me","x":3671,"y":86},{"s":"Me","x":3720,"y":86.1},{"s":"Me","x":3800,"y":86.1},{"s":"Me","x":3900,"y":86},{"s":"Me","x":3990,"y":86.1},
{"s":"CF3","x":413,"y":93.7},{"s":"CF3","x":435,"y":91.5},{"s":"CF3","x":456,"y":89.1},{"s":"CF3","x":480,"y":86.5},{"s":"CF3","x":500,"y":84.5},{"s":"CF3","x":520,"y":86.5},{"s":"CF3","x":540,"y":88.5},{"s":"CF3","x":566,"y":90},{"s":"CF3","x":590,"y":90.7},{"s":"CF3","x":610,"y":89},{"s":"CF3","x":632,"y":88},{"s":"CF3","x":655,"y":91.5},{"s":"CF3","x":676,"y":93},{"s":"CF3","x":698,"y":89.1},{"s":"CF3","x":720,"y":93.5},{"s":"CF3","x":742,"y":94.2},{"s":"CF3","x":764,"y":90.5},{"s":"CF3","x":786,"y":89.5},{"s":"CF3","x":808,"y":93},{"s":"CF3","x":830,"y":94.2},{"s":"CF3","x":850,"y":93.2},{"s":"CF3","x":875,"y":94.7},{"s":"CF3","x":900,"y":93.8},{"s":"CF3","x":919,"y":95},{"s":"CF3","x":940,"y":92.6},{"s":"CF3","x":965,"y":94.2},{"s":"CF3","x":985,"y":93.5},{"s":"CF3","x":1007,"y":94.5},{"s":"CF3","x":1030,"y":93},{"s":"CF3","x":1050,"y":89.1},{"s":"CF3","x":1065,"y":86.1},{"s":"CF3","x":1080,"y":91},{"s":"CF3","x":1100,"y":88},{"s":"CF3","x":1115,"y":82},{"s":"CF3","x":1126,"y":78.4},{"s":"CF3","x":1133,"y":70},{"s":"CF3","x":1139,"y":64.6},{"s":"CF3","x":1145,"y":72},{"s":"CF3","x":1160,"y":82},{"s":"CF3","x":1175,"y":75},{"s":"CF3","x":1190,"y":85},{"s":"CF3","x":1205,"y":80},{"s":"CF3","x":1215,"y":89},{"s":"CF3","x":1236,"y":87.5},{"s":"CF3","x":1260,"y":81},{"s":"CF3","x":1275,"y":90},{"s":"CF3","x":1290,"y":93},{"s":"CF3","x":1310,"y":88},{"s":"CF3","x":1325,"y":80},{"s":"CF3","x":1345,"y":86},{"s":"CF3","x":1370,"y":80},{"s":"CF3","x":1395,"y":76},{"s":"CF3","x":1412,"y":72.3},{"s":"CF3","x":1425,"y":80},{"s":"CF3","x":1440,"y":88},{"s":"CF3","x":1455,"y":79},{"s":"CF3","x":1466,"y":72},{"s":"CF3","x":1480,"y":85},{"s":"CF3","x":1500,"y":90},{"s":"CF3","x":1520,"y":94.5},{"s":"CF3","x":1535,"y":95.3},{"s":"CF3","x":1550,"y":85},{"s":"CF3","x":1565,"y":62},{"s":"CF3","x":1579,"y":40.1},{"s":"CF3","x":1590,"y":33},{"s":"CF3","x":1601,"y":27.9},{"s":"CF3","x":1612,"y":30.5},{"s":"CF3","x":1623,"y":30.8},{"s":"CF3","x":1636,"y":25.6},{"s":"CF3","x":1648,"y":35},{"s":"CF3","x":1660,"y":50},{"s":"CF3","x":1675,"y":70},{"s":"CF3","x":1690,"y":85},{"s":"CF3","x":1711,"y":92},{"s":"CF3","x":1733,"y":94},{"s":"CF3","x":1760,"y":94.2},{"s":"CF3","x":1800,"y":94.2},{"s":"CF3","x":1900,"y":94.1},{"s":"CF3","x":2000,"y":94.2},{"s":"CF3","x":2100,"y":94.1},{"s":"CF3","x":2200,"y":94.2},{"s":"CF3","x":2300,"y":94.2},{"s":"CF3","x":2340,"y":93},{"s":"CF3","x":2355,"y":94.5},{"s":"CF3","x":2400,"y":94.2},{"s":"CF3","x":2500,"y":94.1},{"s":"CF3","x":2600,"y":94.2},{"s":"CF3","x":2700,"y":94.2},{"s":"CF3","x":2834,"y":94.2},{"s":"CF3","x":2856,"y":93.5},{"s":"CF3","x":2870,"y":90},{"s":"CF3","x":2878,"y":86.1},{"s":"CF3","x":2890,"y":89},{"s":"CF3","x":2905,"y":86},{"s":"CF3","x":2923,"y":81.5},{"s":"CF3","x":2944,"y":75.3},{"s":"CF3","x":2955,"y":84},{"s":"CF3","x":2966,"y":89},{"s":"CF3","x":2988,"y":93.2},{"s":"CF3","x":3011,"y":94.2},{"s":"CF3","x":3055,"y":93.5},{"s":"CF3","x":3077,"y":91},{"s":"CF3","x":3099,"y":87.6},{"s":"CF3","x":3130,"y":83.5},{"s":"CF3","x":3165,"y":78.4},{"s":"CF3","x":3200,"y":74},{"s":"CF3","x":3230,"y":69.2},{"s":"CF3","x":3265,"y":63},{"s":"CF3","x":3297,"y":57},{"s":"CF3","x":3320,"y":51.5},{"s":"CF3","x":3341,"y":46.3},{"s":"CF3","x":3363,"y":41},{"s":"CF3","x":3385,"y":35.6},{"s":"CF3","x":3407,"y":32},{"s":"CF3","x":3429,"y":29.4},{"s":"CF3","x":3460,"y":27.4},{"s":"CF3","x":3485,"y":29.4},{"s":"CF3","x":3510,"y":33.5},{"s":"CF3","x":3539,"y":41.7},{"s":"CF3","x":3561,"y":52},{"s":"CF3","x":3583,"y":63.1},{"s":"CF3","x":3605,"y":73.5},{"s":"CF3","x":3627,"y":83},{"s":"CF3","x":3649,"y":89},{"s":"CF3","x":3671,"y":93},{"s":"CF3","x":3693,"y":95.3},{"s":"CF3","x":3705,"y":92},{"s":"CF3","x":3715,"y":95.5},{"s":"CF3","x":3725,"y":92.8},{"s":"CF3","x":3740,"y":94.5},{"s":"CF3","x":3755,"y":92.2},{"s":"CF3","x":3770,"y":95},{"s":"CF3","x":3785,"y":92.5},{"s":"CF3","x":3800,"y":94.8},{"s":"CF3","x":3820,"y":93},{"s":"CF3","x":3840,"y":95},{"s":"CF3","x":3860,"y":93.2},{"s":"CF3","x":3880,"y":94.6},{"s":"CF3","x":3900,"y":93.4},{"s":"CF3","x":3925,"y":94.8},{"s":"CF3","x":3950,"y":93.8},{"s":"CF3","x":3975,"y":94.3},{"s":"CF3","x":3990,"y":94.2},
{"s":"2","x":413,"y":99.1},{"s":"2","x":435,"y":97},{"s":"2","x":456,"y":93.7},{"s":"2","x":480,"y":90},{"s":"2","x":500,"y":86.8},{"s":"2","x":520,"y":90},{"s":"2","x":540,"y":93.5},{"s":"2","x":566,"y":95.5},{"s":"2","x":590,"y":91},{"s":"2","x":610,"y":95},{"s":"2","x":630,"y":96.5},{"s":"2","x":650,"y":93},{"s":"2","x":676,"y":96},{"s":"2","x":698,"y":99},{"s":"2","x":715,"y":95},{"s":"2","x":730,"y":99},{"s":"2","x":750,"y":94},{"s":"2","x":768,"y":99.3},{"s":"2","x":790,"y":96},{"s":"2","x":810,"y":99.3},{"s":"2","x":830,"y":97.5},{"s":"2","x":850,"y":99.5},{"s":"2","x":870,"y":98},{"s":"2","x":896,"y":99.7},{"s":"2","x":915,"y":98},{"s":"2","x":935,"y":100},{"s":"2","x":955,"y":98},{"s":"2","x":980,"y":99.5},{"s":"2","x":1000,"y":98.3},{"s":"2","x":1020,"y":96},{"s":"2","x":1040,"y":99},{"s":"2","x":1060,"y":94},{"s":"2","x":1080,"y":91.5},{"s":"2","x":1100,"y":95},{"s":"2","x":1120,"y":90},{"s":"2","x":1140,"y":86},{"s":"2","x":1160,"y":88},{"s":"2","x":1183,"y":83},{"s":"2","x":1205,"y":79},{"s":"2","x":1230,"y":76},{"s":"2","x":1250,"y":73.8},{"s":"2","x":1271,"y":73.8},{"s":"2","x":1285,"y":70},{"s":"2","x":1298,"y":66.2},{"s":"2","x":1315,"y":78},{"s":"2","x":1335,"y":91},{"s":"2","x":1350,"y":97},{"s":"2","x":1373,"y":99.1},{"s":"2","x":1390,"y":94},{"s":"2","x":1405,"y":97},{"s":"2","x":1420,"y":88},{"s":"2","x":1435,"y":91},{"s":"2","x":1450,"y":95},{"s":"2","x":1470,"y":98.5},{"s":"2","x":1490,"y":99.3},{"s":"2","x":1509,"y":99.3},{"s":"2","x":1530,"y":97.5},{"s":"2","x":1550,"y":87},{"s":"2","x":1566,"y":70},{"s":"2","x":1579,"y":57},{"s":"2","x":1590,"y":48},{"s":"2","x":1601,"y":41.7},{"s":"2","x":1609,"y":50},{"s":"2","x":1614,"y":55},{"s":"2","x":1620,"y":46},{"s":"2","x":1627,"y":37.1},{"s":"2","x":1638,"y":48},{"s":"2","x":1650,"y":68},{"s":"2","x":1668,"y":88},{"s":"2","x":1690,"y":97.5},{"s":"2","x":1711,"y":99.3},{"s":"2","x":1733,"y":99.4},{"s":"2","x":1800,"y":99.4},{"s":"2","x":1900,"y":99.3},{"s":"2","x":2000,"y":99.4},{"s":"2","x":2100,"y":99.3},{"s":"2","x":2200,"y":99.4},{"s":"2","x":2300,"y":99.3},{"s":"2","x":2345,"y":98.8},{"s":"2","x":2360,"y":99.5},{"s":"2","x":2400,"y":99.4},{"s":"2","x":2500,"y":99.3},{"s":"2","x":2600,"y":99.4},{"s":"2","x":2700,"y":99.4},{"s":"2","x":2834,"y":99.4},{"s":"2","x":2856,"y":97.8},{"s":"2","x":2878,"y":92.2},{"s":"2","x":2890,"y":93.5},{"s":"2","x":2905,"y":91},{"s":"2","x":2923,"y":87},{"s":"2","x":2944,"y":81.5},{"s":"2","x":2960,"y":90},{"s":"2","x":2975,"y":96.5},{"s":"2","x":2988,"y":99.2},{"s":"2","x":3011,"y":99.4},{"s":"2","x":3040,"y":98.8},{"s":"2","x":3077,"y":97.5},{"s":"2","x":3100,"y":94},{"s":"2","x":3121,"y":92.2},{"s":"2","x":3143,"y":90.5},{"s":"2","x":3165,"y":89.1},{"s":"2","x":3188,"y":87},{"s":"2","x":3208,"y":84.5},{"s":"2","x":3230,"y":81},{"s":"2","x":3253,"y":76.9},{"s":"2","x":3275,"y":71.5},{"s":"2","x":3297,"y":66.2},{"s":"2","x":3330,"y":59.5},{"s":"2","x":3363,"y":53.9},{"s":"2","x":3395,"y":48.5},{"s":"2","x":3420,"y":46.3},{"s":"2","x":3440,"y":45.4},{"s":"2","x":3460,"y":45},{"s":"2","x":3485,"y":46},{"s":"2","x":3508,"y":48.5},{"s":"2","x":3535,"y":55},{"s":"2","x":3561,"y":64.6},{"s":"2","x":3583,"y":73},{"s":"2","x":3605,"y":81.5},{"s":"2","x":3627,"y":88},{"s":"2","x":3649,"y":93.7},{"s":"2","x":3671,"y":97.5},{"s":"2","x":3693,"y":99.2},{"s":"2","x":3705,"y":98},{"s":"2","x":3718,"y":99.6},{"s":"2","x":3730,"y":98.5},{"s":"2","x":3745,"y":99.3},{"s":"2","x":3760,"y":98.6},{"s":"2","x":3780,"y":99.5},{"s":"2","x":3800,"y":98.8},{"s":"2","x":3830,"y":99.3},{"s":"2","x":3860,"y":98.9},{"s":"2","x":3900,"y":99.4},{"s":"2","x":3950,"y":99},{"s":"2","x":3990,"y":99.3}
],
"ftirText":[
{"t":"C-","x":1275,"y":51.3,"el":"C","side":"pre"},{"t":"N","x":1275,"y":51.3,"el":"N","side":"post"},
{"t":"C=C","x":1513,"y":10,"el":"C","side":"pre"},
{"t":"C=","x":1857,"y":9,"el":"C","side":"pre"},{"t":"O","x":1857,"y":9,"el":"O","side":"post"},
{"t":"C=C-H","x":3129,"y":54.5,"el":"C","side":"pre"},
{"t":"O","x":3429,"y":20.2,"el":"O","side":"pre"},{"t":"-H","x":3429,"y":20.2,"el":"C","side":"post"},
{"t":"N","x":3429,"y":13.3,"el":"N","side":"pre"},{"t":"-H","x":3429,"y":13.3,"el":"C","side":"post"}
]
},
"concat":[
 {"width":275,"height":225,
  "title":{"text":"a)","offset":-5,"dy":16,"dx":-24,"frame":"group"},
  "data":{"name":"xrd"},
  "mark":{"type":"line","strokeWidth":1,"clip":true},
  "encoding":{
   "x":{"field":"x","type":"quantitative","scale":{"domain":[3.6,41.6],"nice":false,"zero":false},"axis":{"title":"2θ (deg.)","values":[5,7.5,10,12.5,15,17.5,20,22.5,25,27.5,30,32.5,35,37.5,40],"labelExpr":"datum.value % 5 === 0 ? datum.label : ''"}},
   "y":{"field":"y","type":"quantitative","scale":{"domain":[0,100],"nice":false,"zero":false},"axis":{"title":"Intensity (a.u.)","labels":false,"tickSize":0,"titlePadding":8,"titleFontSize":15}},
   "color":{"field":"s","type":"nominal","scale":{"domain":["e","s"],"range":["#222222","#ff1a1a"]},"legend":{"legendX":96,"legendY":6,"labelExpr":"datum.label == 'e' ? 'TTPCage-1 experiment' : 'TTPCage-1 simulated'","labelFontSize":11,"symbolType":"M-1,0L4.4,0","symbolSize":100,"rowPadding":12,"labelOffset":20,"padding":10}}
  }
 },
 {"width":272,"height":225,
  "title":{"text":"b)","offset":-21,"dx":-48,"frame":"group"},
  "data":{"name":"iso"},
  "encoding":{
   "x":{"field":"p","type":"quantitative","scale":{"domain":[-0.016,1.055],"nice":false,"zero":false},"axis":{"title":"Relative pressure (p/p₀)","values":[0,0.1,0.2,0.3,0.4,0.5,0.6,0.7,0.8,0.9,1.0],"labelExpr":"round(datum.value*10) % 2 == 0 ? format(datum.value, '.1f') : ''"}},
   "y":{"field":"u","type":"quantitative","scale":{"domain":[-18,548],"nice":false,"zero":false},"axis":{"title":"Uptake (cm³g⁻¹, STP)","values":[0,50,100,150,200,250,300,350,400,450,500],"labelExpr":"datum.value % 100 == 0 ? datum.label : ''","tickSize":5,"labelPadding":3,"titlePadding":6,"titleFontSize":13.5}}
  },
  "layer":[
   {"transform":[{"filter":"datum.b == 'a'"}],"mark":{"type":"point","shape":"triangle-up","filled":true,"size":26,"opacity":1,"strokeWidth":0.6,"clip":true},
    "encoding":{
     "fill":{"field":"s","type":"nominal","scale":{"domain":["1","Me","CF3","2"],"range":["#000000","#ff0000","#00e600","#0000ff"]},"legend":{"legendX":131,"legendY":144,"labelExpr":"datum.label == '1' ? 'TTPCage-1' : datum.label == 'Me' ? 'TTPCage-1-Me' : datum.label == 'CF3' ? 'TTPCage-1-CF₃' : 'TTPCage-2'","labelFontSize":11.5,"symbolType":"M-1,0L4.4,0M1,0.65L1.7,-0.65L2.4,0.65Z","symbolSize":100,"symbolStrokeWidth":1.2,"rowPadding":4,"labelOffset":21,"padding":6}},
     "stroke":{"field":"s","type":"nominal","scale":{"domain":["1","Me","CF3","2"],"range":["#000000","#ff0000","#00e600","#0000ff"]},"legend":{"legendX":131,"legendY":144,"labelExpr":"datum.label == '1' ? 'TTPCage-1' : datum.label == 'Me' ? 'TTPCage-1-Me' : datum.label == 'CF3' ? 'TTPCage-1-CF₃' : 'TTPCage-2'","labelFontSize":11.5,"symbolType":"M-1,0L4.4,0M1,0.65L1.7,-0.65L2.4,0.65Z","symbolSize":100,"symbolStrokeWidth":1.2,"rowPadding":4,"labelOffset":21,"padding":6}}
    }},
   {"transform":[{"filter":"datum.b == 'a'"}],"mark":{"type":"line","strokeWidth":0.8,"clip":true},
    "encoding":{"stroke":{"field":"s","type":"nominal"}}},
   {"transform":[{"filter":"datum.b == 'd'"}],"mark":{"type":"point","shape":"triangle-up","filled":false,"size":26,"strokeWidth":0.9,"opacity":0.5,"clip":true},
    "encoding":{"stroke":{"field":"s","type":"nominal"}}},
   {"transform":[{"filter":"datum.b == 'd'"}],"mark":{"type":"line","strokeWidth":0.8,"opacity":0.6,"clip":true},
    "encoding":{"stroke":{"field":"s","type":"nominal"}}}
  ]
 },
 {"width":271,"height":218,
  "title":{"text":"c)","offset":-10,"dx":-46,"frame":"group"},
  "data":{"name":"tga"},
  "mark":{"type":"line","strokeWidth":1,"clip":true},
  "encoding":{
   "x":{"field":"x","type":"quantitative","scale":{"domain":[20,910],"nice":false,"zero":false},"axis":{"title":"Temperature (°C)","values":[100,200,300,400,500,600,700,800,900],"labelExpr":"datum.value % 200 == 0 ? datum.label : ''","titlePadding":6}},
   "y":{"field":"y","type":"quantitative","scale":{"domain":[24,101.3],"nice":false,"zero":false},"axis":{"title":"Weight (%)","values":[30,35,40,45,50,55,60,65,70,75,80,85,90,95,100],"labelExpr":"datum.value % 10 == 0 ? datum.label : ''","labelPadding":1,"titlePadding":5,"titleFontSize":16}},
   "color":{"field":"s","type":"nominal","scale":{"domain":["2","CF3","1"],"range":["#333333","#ff3030","#3030ff"]},"legend":{"legendX":146,"legendY":5,"labelExpr":"datum.label == '1' ? 'TTPCage-1' : datum.label == 'CF3' ? 'TTPCage-1-CF₃' : 'TTPCage-2'","labelFontSize":12,"symbolType":"M-1,0L4.4,0","symbolSize":100,"rowPadding":5,"labelOffset":20,"padding":6}}
  }
 },
 {"width":287,"height":220,
  "title":{"text":"d)","offset":-10,"dx":-35,"frame":"group"},
  "encoding":{
   "x":{"field":"x","type":"quantitative","scale":{"domain":[377,4168],"nice":false,"zero":false},"axis":{"title":"Wavenumber (cm⁻¹)","values":[500,750,1000,1250,1500,1750,2000,2250,2500,2750,3000,3250,3500,3750,4000],"labelExpr":"datum.value % 500 == 0 ? datum.label : ''","titlePadding":6,"format":"d"}},
   "y":{"field":"y","type":"quantitative","scale":{"domain":[0,101],"nice":false,"zero":false},"axis":{"title":"Intensity (a.u.)","labels":false,"tickSize":0,"titlePadding":10,"titleFontSize":15}}
  },
  "layer":[
   {"data":{"name":"ftir"},"mark":{"type":"line","strokeWidth":1,"clip":true},
    "encoding":{"color":{"field":"s","type":"nominal","scale":{"domain":["1","Me","CF3","2"],"range":["#222222","#ff3030","#22ee22","#2233ff"]},"legend":{"legendX":104,"legendY":111,"labelExpr":"datum.label == '1' ? 'TTPCage-1' : datum.label == 'Me' ? 'TTPCage-1-Me' : datum.label == 'CF3' ? 'TTPCage-1-CF₃' : 'TTPCage-2'","labelFontSize":11.5,"symbolType":"M-1,0L4.4,0","symbolSize":100,"rowPadding":4,"labelOffset":18,"padding":8}}}},
   {"data":{"name":"ftirText"},"transform":[{"filter":"datum.side == 'pre'"}],"mark":{"type":"text","align":"right","baseline":"middle","fontSize":11},
    "encoding":{"text":{"field":"t"},"color":{"condition":[{"test":"datum.el == 'N'","value":"#2233ff"},{"test":"datum.el == 'O'","value":"#ff2020"}],"value":"#222222"}}},
   {"data":{"name":"ftirText"},"transform":[{"filter":"datum.side == 'post'"}],"mark":{"type":"text","align":"left","baseline":"middle","fontSize":11},
    "encoding":{"text":{"field":"t"},"color":{"condition":[{"test":"datum.el == 'N'","value":"#2233ff"},{"test":"datum.el == 'O'","value":"#ff2020"}],"value":"#222222"}}}
  ]
 }
]
}
